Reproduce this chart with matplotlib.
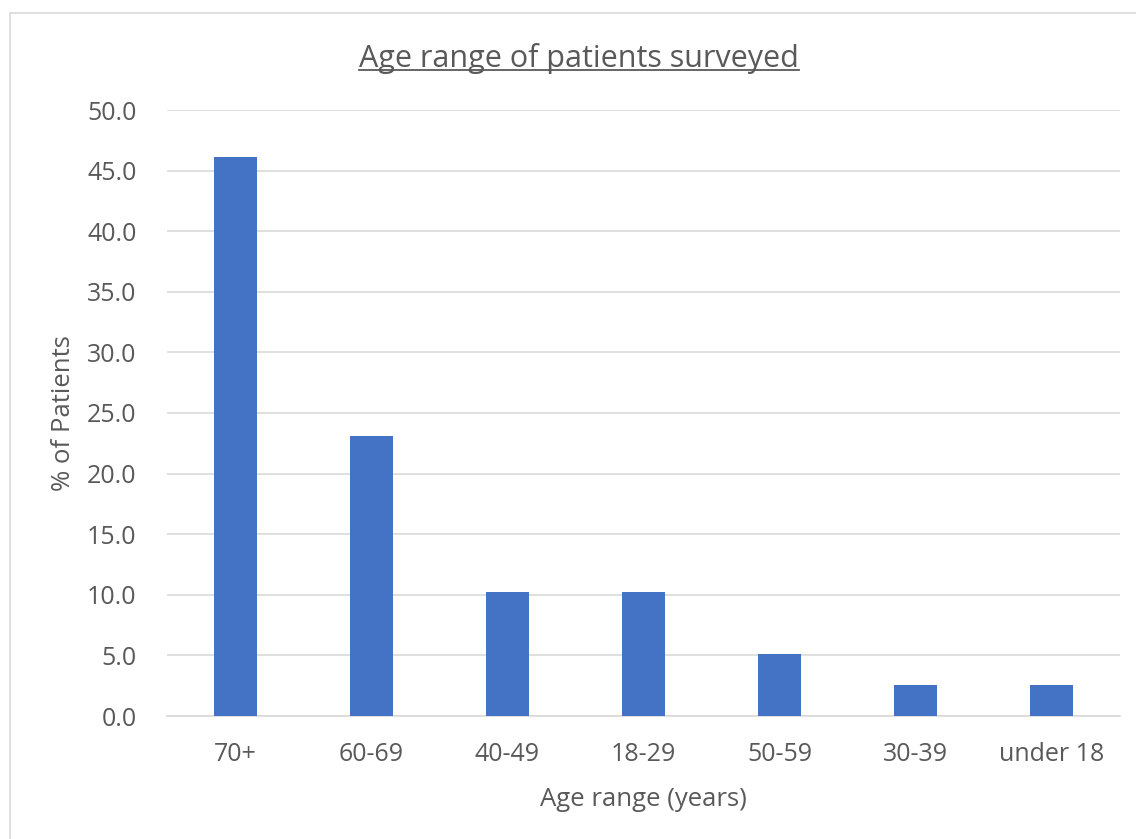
import matplotlib.pyplot as plt
from matplotlib.patches import Rectangle
from matplotlib.lines import Line2D

# data
ages = ["70+", "60-69", "40-49", "18-29", "50-59", "30-39", "under 18"]
pct = [46.15, 23.08, 10.26, 10.26, 5.13, 2.56, 2.56]
yticks = [0, 5, 10, 15, 20, 25, 30, 35, 40, 45, 50]

W, H = 1136, 839
fig = plt.figure(figsize=(W / 100, H / 100), dpi=100)
plt.rcParams['font.family'] = ['Open Sans', 'DejaVu Sans']
grey = "#595959"

# chart border
fig.patches.append(Rectangle((10 / W, -0.05), 1.2, 1 - 13 / H + 0.05,
                             transform=fig.transFigure, fill=False,
                             edgecolor="#d9d9d9", linewidth=1.2))

ax = fig.add_axes([167 / W, 1 - 716 / H, (1120 - 167) / W, (716 - 110) / H])
x = range(len(ages))
ax.bar(x, pct, width=0.316, color="#4472C4", zorder=3)

ax.set_xlim(-0.5, len(ages) - 0.5)
ax.set_ylim(0, 50)
ax.set_yticks(yticks)
ax.set_yticklabels([f"{v:.1f}" for v in yticks])
ax.set_xticks(list(x))
ax.set_xticklabels(ages)
ax.tick_params(axis="both", length=0, labelsize=18, colors=grey)
ax.tick_params(axis="x", pad=19)
ax.tick_params(axis="y", pad=22)
ax.grid(axis="y", color="#d9d9d9", linewidth=1.2, zorder=0)
for s in ["top", "right", "left"]:
    ax.spines[s].set_visible(False)
ax.spines["bottom"].set_color("#d9d9d9")
ax.spines["bottom"].set_linewidth(1.2)

fig.text(63 / W, 1 - 413 / H, "% of Patients", rotation=90, ha="center",
         va="center", fontsize=18.5, color=grey)
fig.text(643 / W, 1 - 800 / H, "Age range (years)", ha="center",
         va="center", fontsize=18.5, color=grey)

title = fig.text(579 / W, 1 - 58 / H, "Age range of patients surveyed",
                 ha="center", va="center", fontsize=22, color=grey)

# underline the title
fig.canvas.draw()
bb = title.get_window_extent()
uy = bb.y0 + 4
fig.lines.append(Line2D([bb.x0 / W, bb.x1 / W], [uy / H, uy / H],
                        transform=fig.transFigure, color=grey, linewidth=1.3))

fig.savefig("out.png", dpi=100)
